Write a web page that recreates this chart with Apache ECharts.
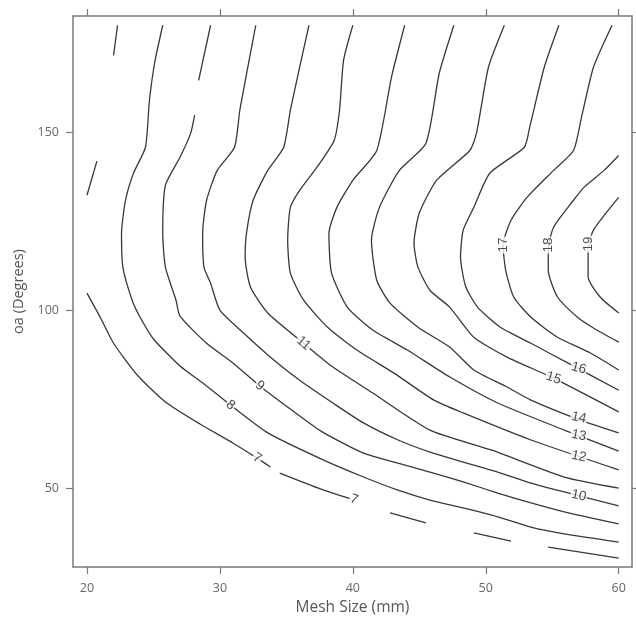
<!DOCTYPE html>
<html>
<head>
<meta charset="utf-8">
<script src="https://cdn.jsdelivr.net/npm/echarts@6/dist/echarts.min.js"></script>
<style>html,body{margin:0;padding:0;background:#fff}#c{width:636px;height:632px}</style>
</head>
<body>
<div id="c"></div>
<script>
// ---- Data ----
const xTicks = [20, 30, 40, 50, 60];
const yTicks = [50, 100, 150];

// contour level 7 (broken into visible pieces)
const c7a = [[20.0,104.8],[21.0,98.0],[22.0,90.7],[23.8,81.7],[25.9,74.2],[28.5,68.0],[31.0,62.6],[32.8,58.4],[33.8,55.9]];
const c7b = [[34.5,54.2],[37.6,49.7],[39.8,47.0]];
const c7c = [[42.8,43.0],[45.5,40.2]];
const c7d = [[49.1,37.4],[51.9,35.1]];
const c7e = [[54.7,33.4],[60.0,30.3]];
const c7f = [[22.3,180.1],[22.0,171.6]];
const c7g = [[20.75,141.9],[20.0,132.3]];
const c8 = [[25.7,180.1],[25.1,169.7],[24.7,159.0],[24.4,145.8],[23.5,138.5],[22.9,130.9],[22.6,121.6],[22.7,112.1],[23.4,102.8],[24.0,98.0],[25.0,91.9],[27.0,84.3],[29.0,78.7],[30.8,73.3],[33.6,65.5],[37.6,58.2],[40.8,53.1],[43.4,49.4],[45.8,46.6],[48.3,44.4],[50.9,41.9],[53.4,39.0],[55.9,37.1],[60.0,34.8]];
const c9a = [[29.3,180.1],[28.4,164.6]];
const c9b = [[28.1,154.8],[27.8,149.7],[27.0,143.0],[25.9,135.1],[25.7,121.6],[25.9,112.1],[26.7,102.8],[27.0,98.3],[29.0,90.7],[31.0,85.1],[33.0,78.7],[35.3,72.2],[37.6,66.0],[40.8,59.8],[43.4,57.0],[45.8,54.5],[48.3,51.7],[50.9,48.6],[53.4,45.8],[55.9,43.3],[60.0,39.9]];
const c10 = [[32.7,180.1],[32.1,168.3],[31.5,156.2],[31.1,145.8],[29.8,139.3],[29.0,130.9],[28.7,121.6],[28.8,112.1],[29.3,107.6],[30.0,100.0],[31.8,93.5],[33.8,86.8],[36.0,80.3],[38.5,73.9],[40.8,68.3],[43.4,63.5],[45.8,60.1],[48.3,57.3],[50.9,54.5],[53.4,51.4],[55.9,48.9],[60.0,45.0]];
const c11 = [[36.7,180.1],[36.0,168.3],[35.3,156.2],[34.8,145.8],[33.6,139.3],[32.5,130.9],[32.0,121.6],[31.9,114.9],[32.3,106.5],[33.6,99.2],[36.3,90.7],[38.5,84.0],[41.5,76.7],[45.8,66.3],[50.4,60.7],[55.9,53.1],[60.0,50.0]];
const c12 = [[40.0,180.1],[39.3,170.2],[39.0,156.2],[38.6,147.8],[37.4,140.7],[36.0,133.7],[35.3,128.9],[35.1,119.7],[35.3,110.4],[36.3,102.8],[38.1,95.2],[40.3,88.8],[43.1,82.3],[46.1,74.7],[48.3,71.1],[53.4,63.5],[60.0,55.1]];
const c13 = [[43.9,180.1],[42.9,165.4],[41.8,144.9],[40.0,136.5],[38.8,128.9],[38.2,121.6],[38.4,110.4],[39.6,100.8],[41.5,94.4],[44.1,88.8],[47.3,81.2],[50.9,73.9],[55.9,66.3],[60.0,60.4]];
const c14 = [[47.6,180.1],[46.5,166.6],[45.5,146.9],[43.5,139.3],[42.0,128.9],[41.4,119.7],[41.8,108.4],[42.8,102.0],[44.9,95.2],[47.3,89.6],[49.1,83.2],[51.6,78.4],[53.4,74.7],[57.1,69.1],[60.0,65.5]];
const c15 = [[51.4,180.1],[50.2,168.3],[49.3,149.7],[48.8,144.9],[46.3,136.5],[45.0,127.3],[44.6,118.8],[44.9,112.1],[45.8,105.6],[47.3,100.8],[49.1,92.4],[51.6,86.8],[55.1,80.9],[60.0,71.4]];
const c16 = [[55.5,180.1],[54.4,168.3],[53.3,151.4],[52.9,145.8],[50.3,138.5],[49.1,128.9],[48.3,122.5],[48.1,114.9],[48.5,106.5],[49.4,100.8],[51.1,95.2],[53.4,90.7],[56.2,85.1],[60.0,77.5]];
const c17 = [[59.5,180.1],[58.1,168.3],[57.2,154.2],[56.6,144.9],[55.1,139.3],[53.1,131.7],[51.9,125.3],[51.3,118.3],[51.5,111.2],[52.1,103.7],[53.4,98.0],[55.4,92.4],[57.9,87.9],[60.0,83.2]];
const c18 = [[60.0,143.5],[58.9,139.3],[57.4,134.6],[56.6,130.9],[55.1,123.3],[54.7,116.9],[54.7,111.2],[55.4,103.7],[56.9,98.0],[58.1,95.0],[60.0,91.0]];
const c19 = [[60.0,131.7],[58.1,122.5],[57.7,116.9],[57.7,109.3],[58.6,103.7],[60.0,99.2]];

// contour labels: [x, y, text]
const contourLabels = [
  [32.8, 58.4, '7'], [40.1, 46.8, '7'], [30.8, 73.3, '8'], [33.0, 78.7, '9'],
  [36.3, 90.7, '11'], [57.0, 47.9, '10'], [57.0, 58.9, '12'], [57.0, 64.8, '13'],
  [57.0, 69.8, '14'], [55.1, 80.9, '15'], [57.0, 83.7, '16'],
  [51.3, 118.3, '17'], [54.7, 118.3, '18'], [57.7, 118.6, '19']
];

// ---- Chart ----
const segments = [c7a, c7b, c7c, c7d, c7e, c7f, c7g, c8, c9a, c9b, c10, c11, c12, c13, c14, c15, c16, c17, c18, c19];
const labelAngle = {'7a': -32, '7b': -20, '8': -38, '9': -38, '11': -40, '10': -12, '12': -12, '13': -12, '14': -12, '15': -18, '16': -16, '17': 90, '18': 90, '19': 90};

const chart = echarts.init(document.getElementById('c'), null, {renderer: 'canvas'});
const boxColor = '#7a7a7a';
const lineSeries = segments.map(pts => ({
  type: 'line', data: pts, showSymbol: false, symbol: 'none', silent: true,
  smooth: 0.2, xAxisIndex: 0, yAxisIndex: 0, z: 2,
  lineStyle: {color: '#383838', width: 1.3}
}));
let seven = 0;
const labelData = contourLabels.map(l => {
  let key = l[2];
  if (key === '7') { key = seven === 0 ? '7a' : '7b'; seven++; }
  return {value: [l[0], l[1]], name: l[2], label: {rotate: labelAngle[key]}};
});
const labelSeries = {
  type: 'scatter', data: labelData, symbolSize: 1, silent: true, z: 5,
  itemStyle: {color: 'rgba(0,0,0,0)'},
  label: {show: true, position: 'inside', formatter: p => p.name,
    fontFamily: 'Liberation Sans', fontSize: 13.5, color: '#222',
    backgroundColor: '#ffffff', padding: [0, 1]}
};
const axisCommon = (pos, withLabel, min, max, ticks) => ({
  type: 'value', position: pos, min: min, max: max,
  axisLine: {show: true, onZero: false, lineStyle: {color: boxColor, width: 1.5}},
  axisTick: {show: true, customValues: ticks, length: 7, inside: false, lineStyle: {color: boxColor, width: 1.2}},
  axisLabel: {show: withLabel, customValues: ticks, color: '#666', fontSize: 12.5, fontFamily: 'Open Sans', margin: 14},
  splitLine: {show: false}
});
const xMain = Object.assign(axisCommon('bottom', true, 18.95, 61.0, xTicks), {
  name: 'Mesh Size (mm)', nameLocation: 'middle', nameGap: 33,
  nameTextStyle: {fontFamily: 'Open Sans', fontSize: 15.5, color: '#555'}
});
xMain.axisLabel.margin = 15;
const yMain = Object.assign(axisCommon('left', true, 27.8, 182.7, yTicks), {
  name: 'oa (Degrees)', nameLocation: 'middle', nameGap: 41,
  nameTextStyle: {fontFamily: 'Open Sans', fontSize: 14.5, color: '#555'}
});
chart.setOption({
  animation: false,
  backgroundColor: '#fff',
  grid: {left: 73, right: 4, top: 16, bottom: 65, containLabel: false},
  xAxis: [xMain, axisCommon('top', false, 18.95, 61.0, xTicks)],
  yAxis: [yMain, axisCommon('right', false, 27.8, 182.7, yTicks)],
  series: lineSeries.concat([labelSeries])
});
</script>
</body>
</html>
